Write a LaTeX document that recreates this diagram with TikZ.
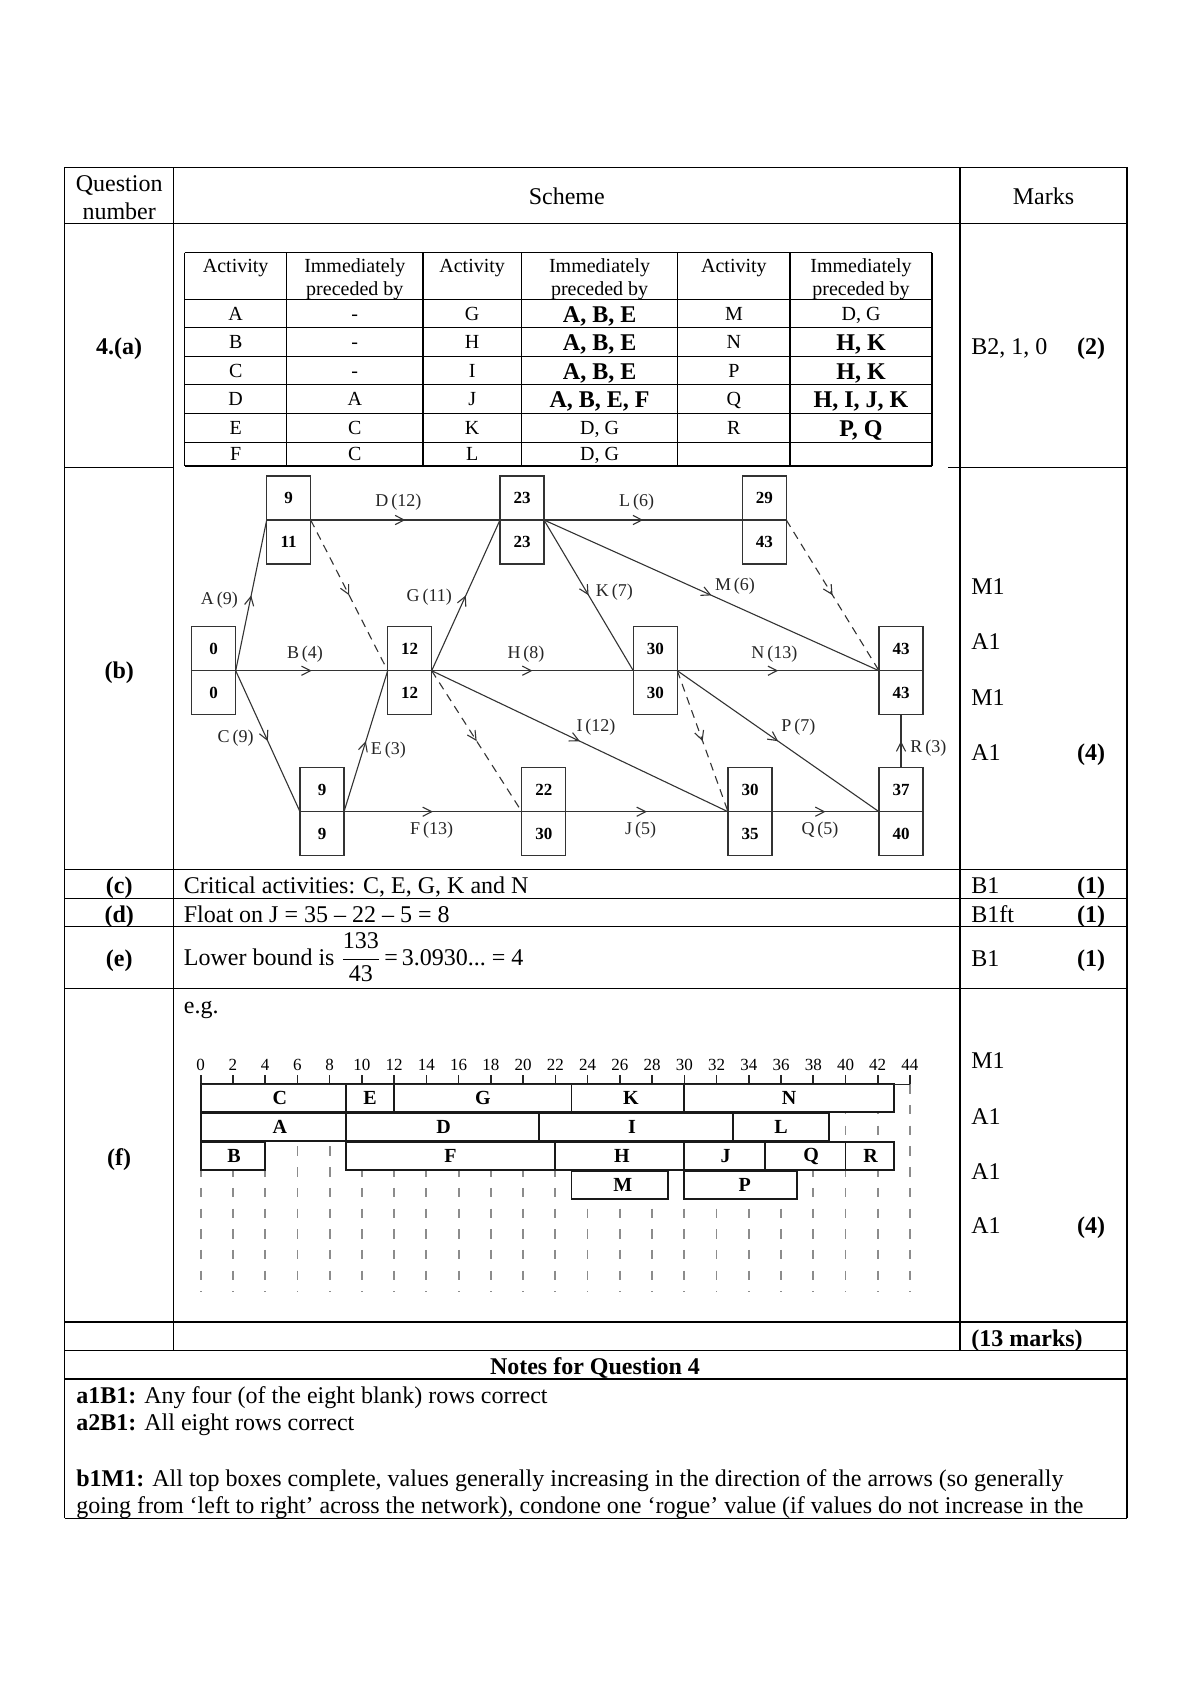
\documentclass[tikz,border=0pt]{standalone}
\usepackage{fontspec}
\setmainfont{Liberation Serif}
\usetikzlibrary{arrows.meta,decorations.markings}
\newcommand\ev[5]{%
  \node[evt] (#1t) at (#2,#3-22) {#4};
  \node[evt] (#1b) at (#2,#3+22) {#5};}
\newcommand\gbar[5]{%
  \draw[gbarst] ({200.7+16.12*#2},#1) rectangle ({200.7+16.12*#3},#1+28);
  \node[glab] at ({200.7+8.06*(#2+#3)+#5},#1+14) {#4};}
\begin{document}
\begin{tikzpicture}[x=0.5pt,y=-0.5pt,
  T/.style={inner sep=0pt, text height=8.2pt, text depth=0pt, font=\fontsize{12}{14}\selectfont},
  TB/.style={T, font=\fontsize{12}{14}\selectfont\bfseries},
  S/.style={inner sep=0pt, text height=6.8pt, text depth=0pt, font=\fontsize{10}{12}\selectfont},
  grid/.style={line width=0.6pt},
  evt/.style={draw=black!80, line width=0.55pt, minimum width=22pt, minimum height=22pt,
    inner sep=0pt, outer sep=0pt, font=\fontsize{8.5}{10}\selectfont\bfseries},
  act/.style={draw=black!80, line width=0.55pt, postaction={decorate},
    decoration={markings, mark=at position 0.5 with {\arrow{Straight Barb[length=4.5pt,width=4.6pt]}}}},
  dum/.style={act, dash pattern=on 4pt off 3pt},
  lab/.style={inner sep=0pt, font=\fontsize{9}{10}\selectfont, text=black!85},
  gdash/.style={draw=black!45, line width=0.9pt, dash pattern=on 4.7pt off 5.65pt},
  gaxis/.style={draw=black!85, line width=0.8pt},
  gbarst/.style={draw=black!90, fill=white, line width=0.9pt},
  glab/.style={inner sep=0pt, font=\fontsize{10}{12}\selectfont\bfseries},
  tick/.style={inner sep=0pt, font=\fontsize{8.5}{10}\selectfont}
]
\useasboundingbox (0,0) rectangle (1190,1683);
\fill[white] (0,0) rectangle (1190,1683);

% ---------------- outer table ----------------
\draw[grid] (64.6,167.3) -- (64.6,1518.3);
\draw[grid] (1127,167.3) -- (1127,1518.3);
\draw[grid] (173.6,167.3) -- (173.6,1350.7);
\draw[grid] (960,167.3) -- (960,1350.7);
\foreach \yy in {167.3,223.3,869.7,898.3,926.7,988.3,1322,1350.7,1379,1518.3}
  \draw[grid] (64.6,\yy) -- (1127,\yy);
\draw[grid] (64.6,467.3) -- (173.6,467.3);
\draw[grid] (948,467.3) -- (1127,467.3);

\node[T] (hq1) at (119.2,183.3) {Question};
\node[T] (hq2) at (119.2,211.7) {number};
\node[T] (hs) at (566.8,196.7) {Scheme};
\node[T] (hm) at (1043.5,196.7) {Marks};

% ---------------- (a) ----------------
\node[TB] (qa) at (119.2,346.6) {4.(a)};
\node[T,anchor=west] (ma) at (971,346.6) {B2, 1, 0};
\node[TB] (ma2) at (1091,346.6) {(2)};

\foreach \xx in {184.7,286.6,423,521.4,677.8,790,931.9}
  \draw[grid] (\xx,252.7) -- (\xx,466);
\foreach \yy in {252.7,299.3,327.7,356.3,384.7,413.3,442.3,466}
  \draw[grid] (184.7,\yy) -- (931.9,\yy);

\foreach \cx/\nm in {235.7/a1,472.2/a3,733.9/a5}
  \node[S] (h\nm) at (\cx,266) {Activity};
\foreach \cx/\nm in {354.8/a2,599.6/a4,861/a6}{
  \node[S] (h\nm) at (\cx,266) {Immediately};
  \node[S] (p\nm) at (\cx,288.3) {preceded by};}

\foreach \t/\r in {A/313.5,B/342,C/370.5,D/399,E/427.8,F/453.3}
  \node[S] (c1\t) at (235.7,\r) {\t};
\foreach \t/\r/\k in {-/313.5/1,-/342/2,-/370.5/3,A/399/4,C/427.8/5,C/453.3/6}
  \node[S] (c2\k) at (354.8,\r) {\t};
\foreach \t/\r in {G/313.5,H/342,I/370.5,J/399,K/427.8,L/453.3}
  \node[S] (c3\t) at (472.2,\r) {\t};
\node[TB] (c41) at (599.6,314) {A, B, E};
\node[TB] (c42) at (599.6,342.5) {A, B, E};
\node[TB] (c43) at (599.6,371) {A, B, E};
\node[TB] (c44) at (599.6,399.5) {A, B, E, F};
\node[S] (c45) at (599.6,427.8) {D, G};
\node[S] (c46) at (599.6,453.3) {D, G};
\foreach \t/\r in {M/313.5,N/342,P/370.5,Q/399,R/427.8}
  \node[S] (c5\t) at (733.9,\r) {\t};
\node[S] (c61) at (861,313.5) {D, G};
\node[TB] (c62) at (861,342.5) {H, K};
\node[TB] (c63) at (861,371) {H, K};
\node[TB] (c64) at (861,399.5) {H, I, J, K};
\node[TB] (c65) at (861,428.3) {P, Q};

% ---------------- (b) network ----------------
\node[TB] (qb) at (119.2,670.7) {(b)};
\ev{e0}{213.7}{670.7}{0}{0}
\ev{e1}{288.7}{520}{9}{11}
\ev{e2}{322}{811.7}{9}{9}
\ev{e3}{409.7}{670.7}{12}{12}
\ev{e4}{522}{520}{23}{23}
\ev{e5}{543.8}{811.7}{22}{30}
\ev{e6}{655.3}{670.7}{30}{30}
\ev{e7}{764.3}{520}{29}{43}
\ev{e8}{901}{670.7}{43}{43}
\ev{e9}{750}{811.7}{30}{35}
\ev{e10}{901}{811.7}{37}{40}

\draw[act] (e0t.south east) -- (e1t.south west);
\draw[act] (e0t.south east) -- (e3t.south west);
\draw[act] (e0t.south east) -- (e2t.south west);
\draw[act] (e1t.south east) -- (e4t.south west);
\draw[dum] (e1t.south east) -- (e3t.south west);
\draw[act] (e2t.south east) -- (e3t.south west);
\draw[act] (e2t.south east) -- (e5t.south west);
\draw[act] (e3t.south east) -- (e4t.south west);
\draw[act] (e3t.south east) -- (e6t.south west);
\draw[act] (e3t.south east) -- (e9t.south west);
\draw[dum] (e3t.south east) -- (e5t.south west);
\draw[act] (e4t.south east) -- (e7t.south west);
\draw[act] (e4t.south east) -- (e6t.south west);
\draw[act] (e4t.south east) -- (e8t.south west);
\draw[dum] (e7t.south east) -- (e8t.south west);
\draw[act] (e6t.south east) -- (e8t.south west);
\draw[act] (e6t.south east) -- (e10t.south west);
\draw[dum] (e6t.south east) -- (e9t.south west);
\draw[act] (e5t.south east) -- (e9t.south west);
\draw[act] (e9t.south east) -- (e10t.south west);
\draw[act] (e10t.north) -- (e8b.south);

\node[lab] (lA) at (219.3,600) {A\,(9)};
\node[lab] (lD) at (398.3,502.3) {D\,(12)};
\node[lab] (lL) at (636.7,502.3) {L\,(6)};
\node[lab] (lG) at (429.3,597.3) {G\,(11)};
\node[lab] (lK) at (614.3,591.7) {K\,(7)};
\node[lab] (lM) at (735,586) {M\,(6)};
\node[lab] (lB) at (305,654.3) {B\,(4)};
\node[lab] (lH) at (526,654.3) {H\,(8)};
\node[lab] (lN) at (774.3,654.3) {N\,(13)};
\node[lab] (lC) at (235.7,738.3) {C\,(9)};
\node[lab] (lE) at (388.3,750) {E\,(3)};
\node[lab] (lI) at (596,726.7) {I\,(12)};
\node[lab] (lP) at (798.3,726.7) {P\,(7)};
\node[lab] (lR) at (928.3,747.7) {R\,(3)};
\node[lab] (lF) at (431.7,830) {F\,(13)};
\node[lab] (lJ) at (640.7,830) {J\,(5)};
\node[lab] (lQ) at (820,830) {Q\,(5)};

\node[T,anchor=west] (mb1) at (971,586) {M1};
\node[T,anchor=west] (mb2) at (971,641.7) {A1};
\node[T,anchor=west] (mb3) at (971,697.5) {M1};
\node[T,anchor=west] (mb4) at (971,752.3) {A1};
\node[TB] (mb5) at (1091,752.3) {(4)};

% ---------------- (c) (d) (e) ----------------
\node[TB] (qc) at (119.2,885) {(c)};
\node[T,anchor=west] (tc) at (183.5,885) {Critical activities: C, E, G, K and N};
\node[T,anchor=west] (mc) at (971,885) {B1};
\node[TB] (mc2) at (1091,885) {(1)};

\node[TB] (qd) at (119.2,914) {(d)};
\node[T,anchor=west] (td) at (183.5,914) {Float on J = 35 -- 22 -- 5 = 8};
\node[T,anchor=west] (md) at (971,914) {B1ft};
\node[TB] (md2) at (1091,914) {(1)};

\node[TB] (qe) at (119.2,958) {(e)};
\node[inner sep=0pt,anchor=base west,font=\fontsize{12}{14}\selectfont] (te) at (183.5,965)
  {Lower bound is $\displaystyle\frac{\hbox{133}}{\hbox{43}}$\kern1.5pt=\kern2pt3.0930...\ = 4};
\node[T,anchor=west] (me) at (971,958) {B1};
\node[TB] (me2) at (1091,958) {(1)};

% ---------------- (f) gantt ----------------
\node[TB] (qf) at (119.2,1156.8) {(f)};
\node[T,anchor=west] (teg) at (183.5,1005.5) {e.g.};
\foreach \k in {0,2,...,44}{
  \draw[gdash] ({200.7+16.12*\k},1084.3) -- ({200.7+16.12*\k},1292);
  \draw[gaxis] ({200.7+16.12*\k},1075) -- ({200.7+16.12*\k},1084.3);
  \node[tick] (tk\k) at ({200.7+16.12*\k},1065) {\k};
}
\gbar{1084.3}{0}{9}{C}{6.5}
\gbar{1084.3}{9}{12}{E}{0}
\gbar{1084.3}{12}{23}{G}{0}
\gbar{1084.3}{23}{30}{K}{3}
\gbar{1084.3}{30}{43}{N}{0}
\gbar{1113.3}{0}{9}{A}{6.5}
\gbar{1113.3}{9}{21}{D}{1}
\gbar{1113.3}{21}{33}{I}{-4}
\gbar{1113.3}{33}{39}{L}{0}
\gbar{1142.3}{0}{4}{B}{1}
\gbar{1142.3}{9}{22}{F}{0}
\gbar{1142.3}{22}{30}{H}{2}
\gbar{1142.3}{30}{35}{J}{1}
\gbar{1142.3}{35}{40}{Q}{6}
\gbar{1142.3}{40}{43}{R}{1}
\gbar{1171.3}{23}{29}{M}{3}
\gbar{1171.3}{30}{37}{P}{4}
\draw[gaxis] (200.7,1084.3) -- ({200.7+16.12*44},1084.3);

\node[T,anchor=west] (mf1) at (971,1060) {M1};
\node[T,anchor=west] (mf2) at (971,1116) {A1};
\node[T,anchor=west] (mf3) at (971,1171) {A1};
\node[T,anchor=west] (mf4) at (971,1225.5) {A1};
\node[TB] (mf5) at (1091,1225.5) {(4)};

% ---------------- totals & notes ----------------
\node[TB,anchor=west] (tot) at (971,1338) {(13 marks)};
\node[TB] (notes) at (595,1366) {Notes for Question 4};
\node[T,anchor=west] (n1) at (76,1395) {\textbf{a1B1:} Any four (of the eight blank) rows correct};
\node[T,anchor=west] (n2) at (76,1422.5) {\textbf{a2B1:} All eight rows correct};
\node[T,anchor=west] (n3) at (76,1478) {\textbf{b1M1:} All top boxes complete, values generally increasing in the direction of the arrows (so generally};
\node[T,anchor=west] (n4) at (76,1505) {going from `left to right' across the network), condone one `rogue' value (if values do not increase in the};
\end{tikzpicture}
\end{document}
